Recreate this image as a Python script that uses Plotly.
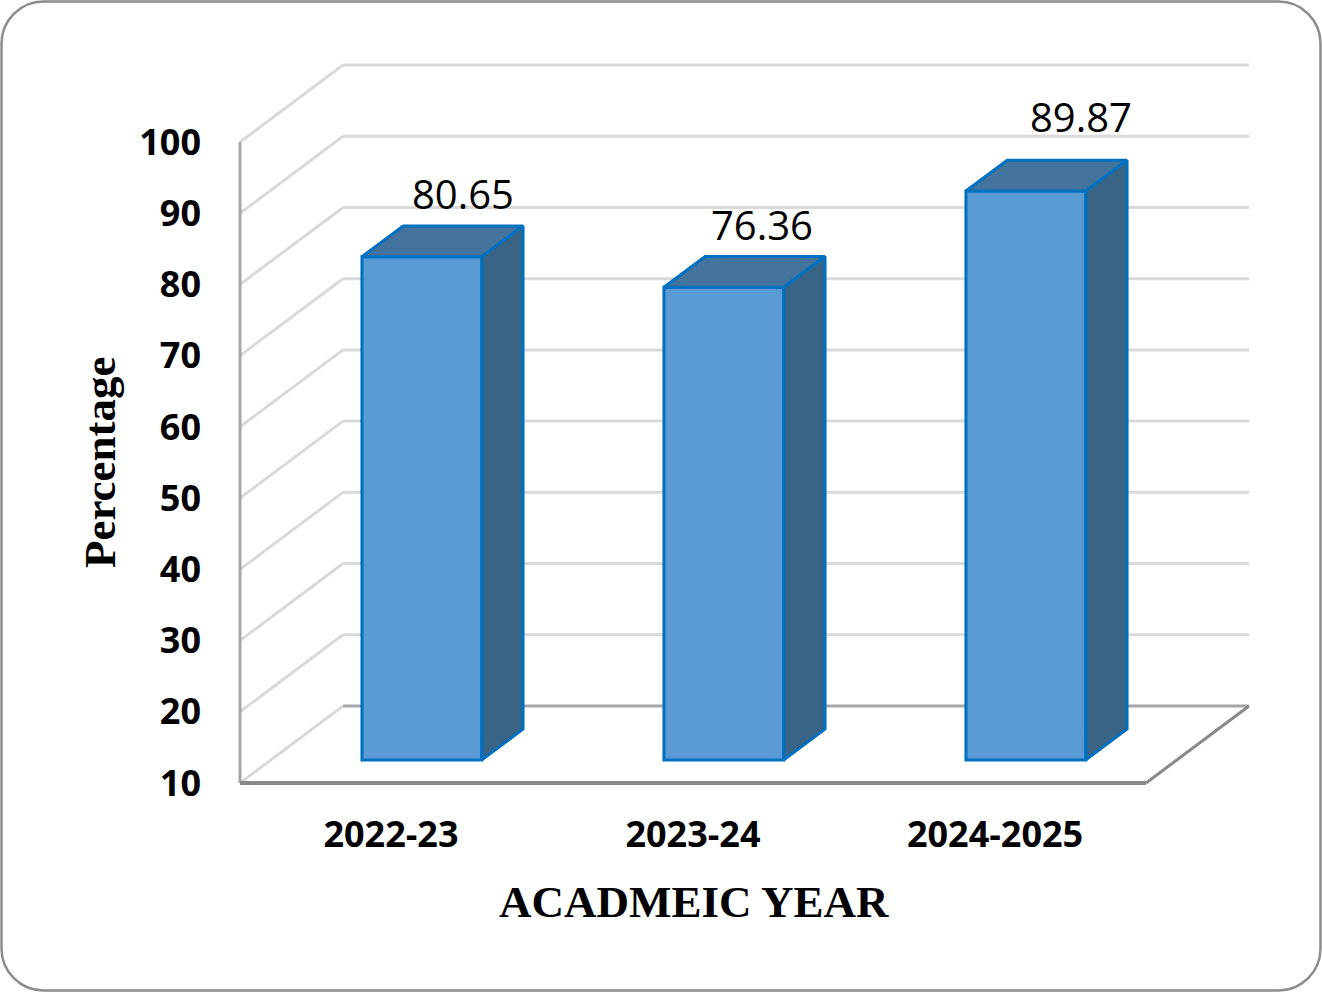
import plotly.graph_objects as go

# ---------------- data ----------------
categories = ["2022-23", "2023-24", "2024-2025"]
values = [80.65, 76.36, 89.87]
y_ticks = [10, 20, 30, 40, 50, 60, 70, 80, 90, 100]

# ---------------- geometry / style ----------------
W, H = 1322, 992
ML, MR, MT, MB = 230, 62, 54, 199
PX_X = 302.0          # px per category unit
PX_Y = 7.122          # px per value unit
X_LEFT_PX = 240       # px of x = -0.5 (front-left wall)
Y10_PX = 783          # px of value 10 on the front plane
DX = 103 / PX_X       # full depth offset in x units
DY = 77 / PX_Y        # full depth offset in value units
F0, F1 = 0.3, 0.7     # bar depth start / end fractions
BW = 0.397            # bar width (category units)
LABEL_NUDGE = [(0, 0), (-3, 0), (14, 12)]   # px nudges of value labels (style)

YMIN, YMAX = y_ticks[0], y_ticks[-1]
XL, XR = -0.5, len(categories) - 0.5

x_range = [XL - (X_LEFT_PX - ML) / PX_X, XL + (W - MR - X_LEFT_PX) / PX_X]
y_range = [YMIN - ((H - MB) - Y10_PX) / PX_Y, YMIN + (Y10_PX - MT) / PX_Y]

FRONT = "#5B9BD5"
TOP = "#44739E"
SIDE = "#3A6486"
EDGE = "#0070C0"
GRID = "#D9D9D9"
WALL = "#A6A6A6"
FLOOR = "#898989"

fig = go.Figure()

# front faces (real bars)
xs_front = [i + F0 * DX for i in range(len(categories))]
base = YMIN + F0 * DY
fig.add_trace(go.Bar(
    x=xs_front, y=[v - YMIN for v in values], base=[base] * len(values),
    width=BW, marker=dict(color=FRONT, line=dict(color=EDGE, width=3)),
    hoverinfo="skip", showlegend=False,
))

dd = F1 - F0
for i, v in enumerate(values):
    xc = xs_front[i]
    xl, xr = xc - BW / 2, xc + BW / 2
    vt = v + F0 * DY
    # top face
    fig.add_trace(go.Scatter(
        x=[xl, xr, xr + dd * DX, xl + dd * DX, xl],
        y=[vt, vt, vt + dd * DY, vt + dd * DY, vt],
        mode="lines", fill="toself", fillcolor=TOP,
        line=dict(color=EDGE, width=3), hoverinfo="skip", showlegend=False,
    ))
    # side face
    fig.add_trace(go.Scatter(
        x=[xr, xr, xr + dd * DX, xr + dd * DX, xr],
        y=[base, vt, vt + dd * DY, base + dd * DY, base],
        mode="lines", fill="toself", fillcolor=SIDE,
        line=dict(color=EDGE, width=3), hoverinfo="skip", showlegend=False,
    ))

# value labels
annotations = []
for i, v in enumerate(values):
    nx, ny = LABEL_NUDGE[i]
    annotations.append(dict(
        x=i + F1 * DX, y=v + F1 * DY, xref="x", yref="y",
        text=f"{v:.2f}", showarrow=False, yanchor="middle",
        xshift=nx, yshift=32 + ny,
        font=dict(family="Open Sans", size=40, color="black"),
    ))

# walls and floor (shapes below traces)
shapes = []
for t in y_ticks:
    col = WALL if t == YMIN else GRID
    shapes.append(dict(type="line", xref="x", yref="y", layer="below",
                       x0=XL + DX, y0=t + DY, x1=XR + DX, y1=t + DY,
                       line=dict(color=col, width=3)))
    shapes.append(dict(type="line", xref="x", yref="y", layer="below",
                       x0=XL, y0=t, x1=XL + DX, y1=t + DY,
                       line=dict(color=GRID, width=3)))
shapes.append(dict(type="line", xref="x", yref="y", layer="below",
                   x0=XL, y0=YMIN, x1=XL, y1=YMAX,
                   line=dict(color=WALL, width=3)))
shapes.append(dict(type="line", xref="x", yref="y", layer="below",
                   x0=XR, y0=YMIN, x1=XR + DX, y1=YMIN + DY,
                   line=dict(color=FLOOR, width=3)))
shapes.append(dict(type="line", xref="x", yref="y", layer="below",
                   x0=XL, y0=YMIN, x1=XR, y1=YMIN,
                   line=dict(color=FLOOR, width=4)))

# rounded outer border (paper coords)
pw, ph = W - ML - MR, H - MT - MB
def px(xp): return (xp - ML) / pw
def py(yp): return (H - MB - yp) / ph
x0b, y0b, x1b, y1b, r = 1.5, 1.5, W - 1.5, H - 1.5, 42
k = 0.5523 * r
path = (
    f"M {px(x0b + r)},{py(y0b)} L {px(x1b - r)},{py(y0b)} "
    f"C {px(x1b - r + k)},{py(y0b)} {px(x1b)},{py(y0b + r - k)} {px(x1b)},{py(y0b + r)} "
    f"L {px(x1b)},{py(y1b - r)} "
    f"C {px(x1b)},{py(y1b - r + k)} {px(x1b - r + k)},{py(y1b)} {px(x1b - r)},{py(y1b)} "
    f"L {px(x0b + r)},{py(y1b)} "
    f"C {px(x0b + r - k)},{py(y1b)} {px(x0b)},{py(y1b - r + k)} {px(x0b)},{py(y1b - r)} "
    f"L {px(x0b)},{py(y0b + r)} "
    f"C {px(x0b)},{py(y0b + r - k)} {px(x0b + r - k)},{py(y0b)} {px(x0b + r)},{py(y0b)} Z"
)
shapes.append(dict(type="path", xref="paper", yref="paper", path=path,
                   line=dict(color="#8C8C8C", width=2.5), layer="below"))

# axis titles
annotations.append(dict(
    x=px(100), y=py(462), xref="paper", yref="paper", text="Percentage",
    textangle=-90, showarrow=False, xanchor="center", yanchor="middle",
    font=dict(family="Liberation Serif", size=45, color="black", weight="bold"),
))
annotations.append(dict(
    x=px(694), y=py(902), xref="paper", yref="paper", text="ACADMEIC YEAR",
    showarrow=False, xanchor="center", yanchor="middle",
    font=dict(family="Liberation Serif", size=45, color="black", weight="bold"),
))

fig.update_layout(
    width=W, height=H, margin=dict(l=ML, r=MR, t=MT, b=MB, pad=0),
    paper_bgcolor="white", plot_bgcolor="white",
    barmode="overlay", showlegend=False,
    shapes=shapes, annotations=annotations,
    xaxis=dict(range=x_range, tickvals=list(range(len(categories))),
               ticktext=categories, showgrid=False, zeroline=False,
               showline=False, ticks="", ticklabelstandoff=17,
               tickfont=dict(family="Open Sans", size=36, color="black", weight="bold"),
               fixedrange=True),
    yaxis=dict(range=y_range, tickvals=y_ticks, showgrid=False, zeroline=False,
               showline=False, ticks="", ticklabelstandoff=28,
               tickfont=dict(family="Open Sans", size=36, color="black", weight="bold"),
               fixedrange=True),
)

fig.write_html("out.html", config={"displayModeBar": False},
               post_script="document.body.style.margin='0';document.body.style.overflow='hidden';")
